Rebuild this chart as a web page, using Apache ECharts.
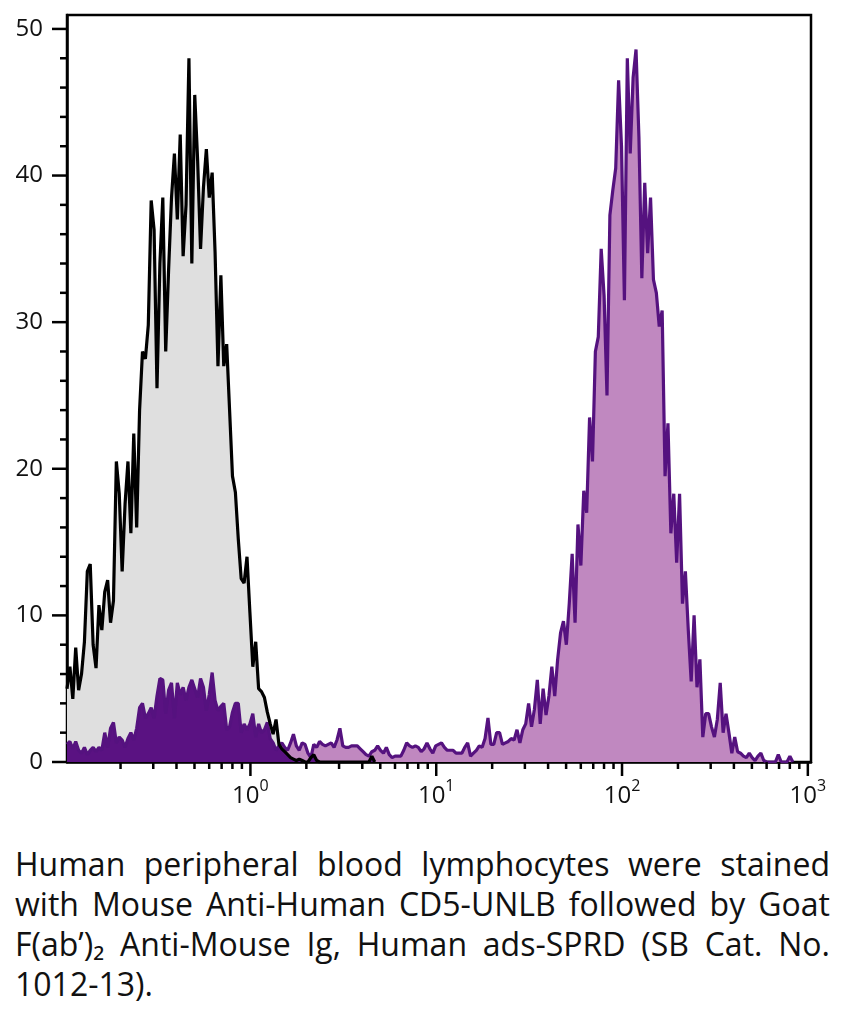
<!DOCTYPE html>
<html>
<head>
<meta charset="utf-8">
<script src="https://cdn.jsdelivr.net/npm/echarts/dist/echarts.min.js"></script>
<style>
body{margin:0;background:#fff;}
#chart{width:844px;height:830px;}
.caption{position:absolute;left:15px;top:844px;width:815px;font-family:"Open Sans";font-size:32px;line-height:40px;color:#111;}
.caption div{white-space:nowrap;text-align:justify;text-align-last:justify;}
.caption div.last{text-align-last:left;}
</style>
</head>
<body>
<div id="chart"></div>
<div class="caption">
  <div>Human peripheral blood lymphocytes were stained</div>
  <div>with Mouse Anti-Human CD5-UNLB followed by Goat</div>
  <div>F(ab’)₂ Anti-Mouse Ig, Human ads-SPRD (SB Cat. No.</div>
  <div class="last">1012-13).</div>
</div>
<script>
// histogram channels: first channel value and channels per decade
var binStart = 0.103;
var binsPerDecade = 64;

// isotype control (black line, gray fill)
var isotypeCounts = [
  5.0,6.5,4.3,7.8,4.9,6.0,8.2,13.0,13.5,8.0,
  6.4,10.7,9.0,11.6,12.4,9.5,11.0,20.5,18.3,13.0,
  17.6,20.5,15.6,22.4,16.0,24.0,28.0,27.5,29.8,38.3,
  36.3,25.5,34.0,38.5,28.0,33.6,38.5,41.5,37.0,42.8,
  34.5,38.0,48.0,34.0,45.5,41.0,35.0,39.2,41.8,38.5,
  40.2,34.8,27.0,33.2,27.0,28.5,24.0,19.5,18.4,15.2,
  12.5,12.2,14.0,10.2,6.5,8.2,5.0,4.8,4.4,3.4,
  2.6,1.9,2.9,1.2,0.9,0.7,0.5,0.3,0.2,0.1,
  0.2,0.1,0,0,0.3,0.5,0.1,0,0,0,
  0,0,0,0,0,0,0,0,0,0,
  0,0,0,0,0,0.4,0
];

// CD5 stained (purple)
var cd5Counts = [
  1.2,1.4,0.9,1.4,0.8,0.6,1.0,0.5,0.8,1.0,
  0.7,1.0,0.8,2.0,1.0,2.3,2.7,1.3,1.7,1.5,
  1.0,1.6,2.0,1.5,2.3,3.7,4.0,3.0,3.3,3.7,
  3.0,4.5,5.7,5.6,3.3,4.9,5.4,3.0,5.4,4.6,
  5.1,4.2,5.1,5.6,5.0,4.4,5.7,5.1,3.5,4.6,
  6.1,4.2,3.5,3.8,4.0,2.2,2.4,3.4,4.0,4.0,
  2.0,2.6,2.2,2.6,3.3,1.7,2.6,2.0,2.2,2.7,
  1.6,1.3,0.8,1.1,1.3,1.0,0.8,1.3,1.9,1.1,
  0.8,1.3,1.2,0.6,0.3,1.2,1.0,1.4,1.2,1.1,
  1.2,1.3,1.0,1.5,2.3,1.1,1.0,1.0,1.1,1.1,
  1.1,0.9,0.7,0.5,0.4,0.7,0.8,1.1,0.8,0.6,
  1.0,0.5,0.3,0.4,0.4,0.4,0.8,1.3,1.1,1.0,
  1.1,1.0,0.7,0.9,1.3,0.9,0.6,1.1,1.2,1.3,
  1.0,0.8,0.8,0.8,0.6,0.6,0.6,1.0,1.3,0.4,
  0.6,0.8,1.1,1.0,1.6,3.0,1.2,1.2,2.0,2.0,
  1.2,1.3,1.4,1.6,1.5,2.2,1.3,2.2,2.6,4.0,
  2.4,3.6,5.6,2.6,5.0,3.2,4.5,6.5,4.5,7.0,
  8.8,9.6,8.0,10.8,14.2,9.5,16.2,13.4,18.5,17.0,
  23.5,20.5,28.0,29.0,35.0,31.8,25.0,37.3,39.0,40.5,
  46.5,42.0,31.5,48.0,41.5,46.7,48.6,42.6,33.0,39.5,
  34.7,38.5,32.9,32.0,29.7,30.8,19.5,23.1,15.6,18.3,
  13.6,18.3,10.8,13.0,9.0,5.5,10.0,5.1,7.0,1.7,
  3.3,3.3,2.4,1.7,2.9,5.4,2.0,3.3,2.0,0.6,
  1.7,0.7,0.6,0.4,0.3,0.6,0.3,0.1,0.4,0.6,
  0.1,0,0,0,0,0.5,0,0,0,0.4,0
];

var yTickLabels = [0, 10, 20, 30, 40, 50];
var xDecades = [-1, 0, 1, 2, 3];

var F = '"Open Sans", sans-serif';
var xMin = 0.103, xMax = 1040;

function toPoints(arr) {
  return arr.map(function (v, i) {
    return [binStart * Math.pow(10, i / binsPerDecade), v];
  });
}
var isoData = toPoints(isotypeCounts);
var cd5Data = toPoints(cd5Counts);
// where the two histograms overlap
var overlapData = isotypeCounts.map(function (v, i) {
  return [isoData[i][0], Math.min(v, cd5Counts[i] || 0)];
});

// tick marks (log minor ticks on x, every 2 on y)
var xTicks = [];
xDecades.forEach(function (d) {
  for (var k = 1; k <= 9; k++) {
    var v = k * Math.pow(10, d);
    if (v >= xMin && v <= xMax) xTicks.push([v, 0, k === 1 ? 14 : 7]);
  }
});
var yTicks = [];
for (var t = 0; t <= 50; t += 2) yTicks.push([xMin, t, t % 10 === 0 ? 15 : 7]);

var myChart = echarts.init(document.getElementById('chart'));
myChart.setOption({
  animation: false,
  grid: {
    left: 67, top: 15, width: 744, height: 747,
    show: true, borderColor: '#000', borderWidth: 2.5
  },
  xAxis: {
    type: 'log', logBase: 10, min: xMin, max: xMax,
    axisLine: { lineStyle: { color: '#000', width: 2.5 } },
    axisTick: { show: false },
    splitLine: { show: false },
    axisLabel: {
      margin: 16,
      formatter: function (v) {
        var e = Math.log10(v), r = Math.round(e);
        if (Math.abs(e - r) > 0.01 || r < 0) return '';
        return '{b|10}{s|' + r + '}';
      },
      rich: {
        b: { fontSize: 24, fontFamily: F, color: '#111', verticalAlign: 'bottom' },
        s: { fontSize: 16, fontFamily: F, color: '#111', padding: [0, 0, 14, 0] }
      }
    }
  },
  yAxis: {
    type: 'value', min: 0, max: 50.95, interval: 10,
    axisLine: { show: true, lineStyle: { color: '#000', width: 2.5 } },
    axisTick: { show: false },
    splitLine: { show: false },
    axisLabel: {
      margin: 24, fontSize: 24, fontFamily: F, color: '#111',
      formatter: function (v) { return yTickLabels.indexOf(v) >= 0 ? String(v) : ''; }
    }
  },
  series: [
    { name: 'cd5Fill', type: 'line', data: cd5Data, showSymbol: false, z: 1,
      lineStyle: { width: 0 }, areaStyle: { color: '#c088c0', opacity: 1 } },
    { name: 'isoFill', type: 'line', data: isoData, showSymbol: false, z: 2,
      lineStyle: { width: 0 }, areaStyle: { color: '#dfdfdf', opacity: 1 } },
    { name: 'overlap', type: 'line', data: overlapData, showSymbol: false, z: 3,
      lineStyle: { width: 0 }, areaStyle: { color: '#5a1282', opacity: 1 } },
    { name: 'cd5', type: 'line', data: cd5Data, showSymbol: false, z: 4,
      lineStyle: { color: '#55127f', width: 3.2 } },
    { name: 'isotype', type: 'line', data: isoData, showSymbol: false, z: 5,
      lineStyle: { color: '#000', width: 3.2 } },
    { name: 'xTicks', type: 'custom', data: xTicks, z: 6, silent: true, clip: false,
      renderItem: function (params, api) {
        var p = api.coord([api.value(0), api.value(1)]);
        return { type: 'line', shape: { x1: p[0], y1: p[1], x2: p[0], y2: p[1] + api.value(2) },
          style: { stroke: '#000', lineWidth: 2.5 } };
      } },
    { name: 'yTicks', type: 'custom', data: yTicks, z: 6, silent: true, clip: false,
      renderItem: function (params, api) {
        var p = api.coord([api.value(0), api.value(1)]);
        return { type: 'line', shape: { x1: p[0] - api.value(2), y1: p[1], x2: p[0], y2: p[1] },
          style: { stroke: '#000', lineWidth: 2.5 } };
      } }
  ]
});
</script>
</body>
</html>
